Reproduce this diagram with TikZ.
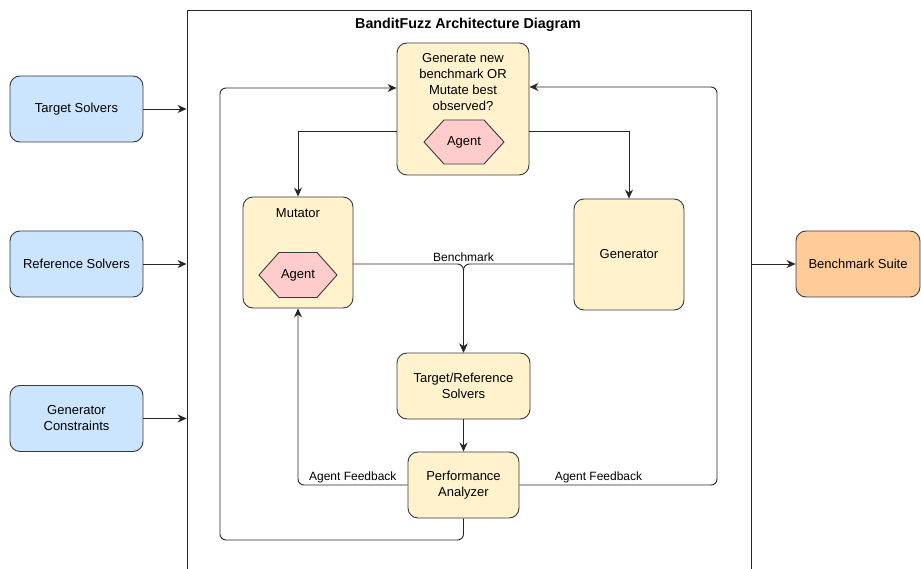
\documentclass[tikz,border=0pt]{standalone}
\usepackage{fontspec}
\setmainfont{Liberation Sans}
\usepackage{tikz}
\usetikzlibrary{arrows.meta}
\definecolor{inblue}{HTML}{CCE5FF}
\definecolor{procyellow}{HTML}{FFF2CC}
\definecolor{outorange}{HTML}{FFCC99}
\definecolor{agentpink}{HTML}{FFCCCC}
\definecolor{edgegray}{HTML}{36393D}
\tikzstyle{box}=[draw=edgegray, line width=0.9pt, rounded corners=10pt, inner sep=2pt, align=center, font=\fontsize{13}{16}\selectfont]
\tikzstyle{inbox}=[box, fill=inblue, minimum width=133pt, minimum height=66pt]
\tikzstyle{proc}=[box, fill=procyellow]
\tikzstyle{outbox}=[box, fill=outorange, minimum width=124pt, minimum height=66pt]
\tikzstyle{hexa}=[draw=edgegray, line width=0.9pt, fill=agentpink]
\tikzstyle{txt}=[inner sep=0pt, align=center, font=\fontsize{13}{16}\selectfont]
\tikzstyle{lbl}=[inner sep=2pt, font=\fontsize{12}{14}\selectfont]
\tikzstyle{flow}=[line width=0.9pt, draw=black!85, -{Stealth[length=9pt, width=8pt, inset=3pt]}]

\begin{document}
\begin{tikzpicture}[x=1pt, y=-1pt]
        \useasboundingbox[fill=white] (0,0) rectangle (921,569);
        \node[draw=black!85, line width=0.9pt, minimum width=564pt, minimum height=600pt, inner sep=0pt] (arch) at (469,310) {};
        \node[txt, font=\fontsize{14.3}{16}\selectfont\bfseries] (title) at (468,25) {BanditFuzz Architecture Diagram};
        \node[inbox] (ts) at (76.5,109) {Target Solvers};
        \node[inbox] (rs) at (76.5,264) {Reference Solvers};
        \node[inbox] (gc) at (76.5,418.5) {Generator\\Constraints};
        \node[outbox] (suite) at (858,264) {Benchmark Suite};
        \node[proc, minimum width=132pt, minimum height=132pt] (choose) at (463,109) {};
        \node[txt] (chooseq) at (463,82) {Generate new\\benchmark OR\\Mutate best\\observed?};
        \draw[hexa] (424,142) -- (444,120) -- (484,120) -- (504,142) -- (484,164) -- (444,164) -- cycle;
        \node[txt] (agentC) at (464,142) {Agent};
        \node[proc, minimum width=110pt, minimum height=111pt] (mut) at (298,252.5) {};
        \node[txt] (mutname) at (298,213) {Mutator};
        \draw[hexa] (259,275) -- (279,252.5) -- (317,252.5) -- (337,275) -- (317,297.5) -- (279,297.5) -- cycle;
        \node[txt] (agentM) at (298,275) {Agent};
        \node[proc, minimum width=110pt, minimum height=111pt] (gen) at (629,254.5) {Generator};
        \node[proc, minimum width=133pt, minimum height=66pt] (tr) at (463.5,386) {Target/Reference\\Solvers};
        \node[proc, minimum width=111pt, minimum height=66pt] (perf) at (463.5,485) {Performance\\Analyzer};
        \coordinate (bm) at (463.5,264);
        \coordinate (lb) at (220,540);
        \coordinate (lt) at (220,88);
        \coordinate (rb) at (717,485);
        \coordinate (rt) at (717,87);
        \draw[flow] (ts.east) -- (ts.east -| arch.west);
        \draw[flow] (rs.east) -- (rs.east -| arch.west);
        \draw[flow] (gc.east) -- (gc.east -| arch.west);
        \draw[flow] (rs.east -| arch.east) -- (suite.west);
        \draw[flow] ([yshift=-22pt]choose.west) -| (mut.north);
        \draw[flow] ([yshift=-22pt]choose.east) -| (gen.north);
        \draw[flow, rounded corners=6pt] (mut.east |- bm) -| (tr.north);
        \draw[flow, rounded corners=6pt] (gen.west |- bm) -| (tr.north);
        \node[lbl, anchor=south] (bmlabel) at (bm) {Benchmark};
        \draw[flow] (tr.south) -- (perf.north);
        \draw[flow, rounded corners=6pt] (perf.west) -- node[lbl, above, pos=0.5] {Agent Feedback} (perf.west -| mut.south) -- (mut.south);
        \draw[flow, rounded corners=6pt] (perf.east) -- node[lbl, above, pos=0.4] {Agent Feedback} (rb) -- (rt) -- (choose.east |- rt);
        \draw[flow, rounded corners=6pt] (perf.south) |- (lb) -- (lt) -- (choose.west |- lt);
\end{tikzpicture}
\end{document}
